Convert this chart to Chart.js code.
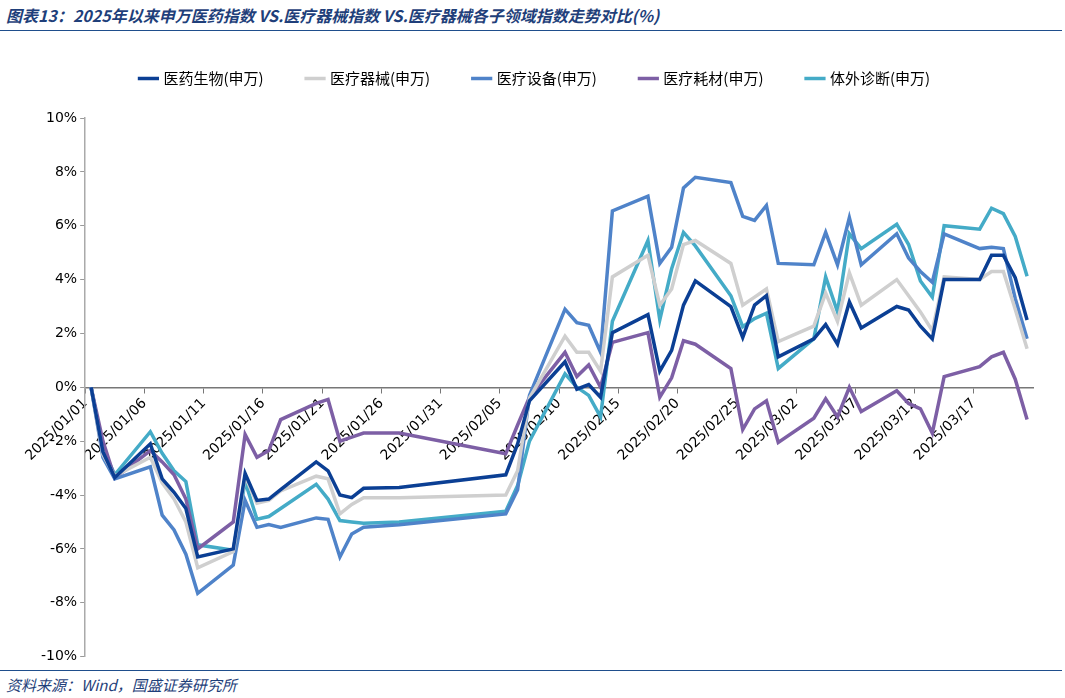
<!DOCTYPE html>
<html><head><meta charset="utf-8">
<script src="https://cdn.jsdelivr.net/npm/chart.js@4"></script>
<style>
body{margin:0;background:#fff;width:1065px;height:698px;position:relative;overflow:hidden;font-family:"Noto Sans CJK SC",sans-serif}
#title{position:absolute;left:6px;top:3px;font-size:16px;font-style:italic;font-weight:bold;color:#1f3f7a}
#rule1{position:absolute;left:0;top:30px;width:1062px;border-top:1px solid #1f4e8c}
#rule2{position:absolute;left:0;top:670px;width:1062px;border-top:1px solid #1f4e8c}
#src{position:absolute;left:6px;top:674px;font-size:15px;font-style:italic;color:#1f3f7a}
#wrap{position:absolute;left:0;top:27px;width:1065px;height:641px}
</style></head><body>
<div id="title">图表13：2025年以来申万医药指数 VS.医疗器械指数 VS.医疗器械各子领域指数走势对比(%)</div>
<div id="rule1"></div>
<div id="wrap"><canvas id="c"></canvas></div>
<div id="rule2"></div>
<div id="src">资料来源：Wind，国盛证券研究所</div>
<script>
// trading days (month/day, 2025)
const dates = ["01/01","01/02","01/03","01/06","01/07","01/08","01/09","01/10","01/13","01/14","01/15","01/16","01/17","01/20","01/21","01/22","01/23","01/24","01/27",
  "02/05","02/06","02/07","02/10","02/11","02/12","02/13","02/14","02/17","02/18","02/19","02/20","02/21","02/24","02/25","02/26","02/27","02/28",
  "03/03","03/04","03/05","03/06","03/07","03/10","03/11","03/12","03/13","03/14","03/17","03/18","03/19","03/20","03/21"];

const names = ["医药生物(申万)","医疗器械(申万)","医疗设备(申万)","医疗耗材(申万)","体外诊断(申万)"];
const colors = ["#0b3f94","#cfcfcf","#4f83c9","#7d5fa5","#44abc7"];

const pharma = [0,-2.4,-3.35,-2.1,-3.4,-3.9,-4.5,-6.3,-6.0,-3.2,-4.2,-4.15,-3.8,-2.77,-3.1,-4.0,-4.1,-3.75,-3.72,
  -3.25,-2.1,-0.5,0.95,-0.07,0.1,-0.37,2.03,2.7,0.6,1.37,3.05,3.95,3.0,1.85,3.05,3.4,1.13,
  1.8,2.33,1.6,3.17,2.2,3.0,2.87,2.27,1.8,4.0,4.0,4.9,4.9,4.07,2.5];
const device = [0,-2.5,-3.3,-2.6,-3.55,-4.15,-5.0,-6.7,-6.1,-3.3,-4.3,-4.2,-3.85,-3.3,-3.4,-4.7,-4.35,-4.1,-4.1,
  -4.0,-3.1,-0.4,1.9,1.3,1.3,0.6,4.1,4.9,3.05,3.65,5.3,5.45,4.6,3.05,3.35,3.65,1.7,
  2.27,3.5,2.45,4.25,3.05,4.0,3.4,2.8,2.1,4.1,4.0,4.3,4.3,2.9,1.43];
const equipment = [0,-2.6,-3.4,-2.95,-4.75,-5.3,-6.2,-7.65,-6.6,-4.2,-5.2,-5.1,-5.2,-4.85,-4.9,-6.3,-5.45,-5.2,-5.1,
  -4.7,-3.8,-0.3,2.9,2.4,2.3,1.3,6.55,7.1,4.6,5.2,7.4,7.8,7.6,6.35,6.2,6.75,4.6,
  4.55,5.75,4.55,6.3,4.55,5.7,4.8,4.3,3.9,5.7,5.15,5.2,5.15,3.3,1.8];
const consumables = [0,-2.0,-3.37,-2.35,-2.77,-3.25,-4.15,-6.0,-5.0,-1.75,-2.6,-2.35,-1.2,-0.6,-0.45,-2.0,-1.85,-1.7,-1.7,
  -2.47,-1.4,-0.37,1.3,0.4,0.83,0,1.67,2.03,-0.37,0.35,1.73,1.6,0.7,-1.57,-0.8,-0.5,-2.05,
  -1.15,-0.43,-1.1,0,-0.9,-0.13,-0.6,-0.8,-1.7,0.4,0.77,1.13,1.3,0.3,-1.2];
const ivd = [0,-2.3,-3.25,-1.65,-2.45,-3.1,-3.5,-5.85,-6.05,-3.5,-4.9,-4.8,-4.5,-3.6,-4.15,-4.95,-5.0,-5.05,-5.0,
  -4.6,-3.65,-2.0,0.5,0,-0.3,-1.1,2.45,5.45,2.5,4.4,5.75,5.25,3.4,2.25,2.55,2.75,0.7,
  1.8,4.1,2.8,5.7,5.15,6.05,5.3,3.95,3.35,6.0,5.87,6.65,6.45,5.6,4.12];

const yTicks = [-10,-8,-6,-4,-2,0,2,4,6,8,10];

const start = new Date(2025,0,1);
function dayIndex(md){
  const [m,d] = md.split("/").map(Number);
  return Math.round((new Date(2025,m-1,d) - start) / 86400000);
}
function dayLabel(k){
  const dt = new Date(2025,0,1+k);
  return "2025/" + String(dt.getMonth()+1).padStart(2,"0") + "/" + String(dt.getDate()).padStart(2,"0");
}
const xs = dates.map(dayIndex);

const series = [pharma, device, equipment, consumables, ivd];
const datasets = series.map((vals,i) => ({
  label: names[i],
  data: vals.map((v,j) => ({x: xs[j], y: v})),
  borderColor: colors[i], backgroundColor: colors[i],
  borderWidth: 3.5, pointRadius: 0, tension: 0
}));

// extra room under the legend
const legendGap = {
  id: "legendGap",
  beforeInit(chart) {
    const fit = chart.legend.fit;
    chart.legend.fit = function() { fit.bind(chart.legend)(); this.height += 22; };
  }
};

new Chart("c", {
  type: "line",
  data: {datasets},
  plugins: [legendGap],
  options: {
    responsive: true, maintainAspectRatio: false, animation: false,
    layout: {padding: {left: 38, right: 32, top: 0, bottom: 10}},
    plugins: {
      legend: {
        position: "top",
        labels: {usePointStyle: true, pointStyle: "line", boxWidth: 42, padding: 44,
          color: "#000", font: {family: "Noto Sans CJK SC", size: 15}}
      },
      tooltip: {enabled: false}
    },
    scales: {
      x: {
        type: "linear", position: {y: 0}, min: -0.5, max: 79.5,
        afterBuildTicks: (ax) => { ax.ticks = Array.from({length: 16}, (_,k) => ({value: k*5 - 0.5})); },
        ticks: {minRotation: 45, maxRotation: 45, autoSkip: false, color: "#000",
          font: {family: "DejaVu Sans", size: 14},
          callback: (v) => dayLabel(Math.round(v + 0.5))},
        grid: {drawOnChartArea: false, color: "#777", tickLength: 5},
        border: {color: "#777", width: 1.5}
      },
      y: {
        min: -10, max: 10,
        afterBuildTicks: (ax) => { ax.ticks = yTicks.map(v => ({value: v})); },
        ticks: {color: "#000", font: {family: "DejaVu Sans", size: 14}, callback: (v) => v + "%"},
        grid: {drawOnChartArea: false, color: "#999", tickLength: 5},
        border: {color: "#aaa", width: 1.5}
      }
    }
  }
});
</script>
</body></html>
